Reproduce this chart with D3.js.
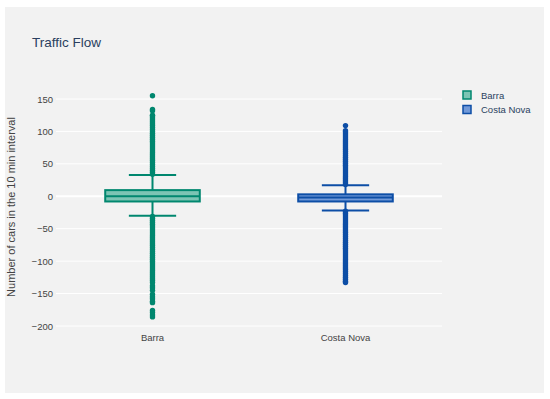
<!DOCTYPE html>
<html lang="en">

<head>
    <meta charset="UTF-8">
    <script src="https://d3js.org/d3.v7.min.js"></script>
    <title>Traffic Flow</title>
    <style>
        body { margin: 0; background: #fff; }
        text { font-family: "Liberation Sans", Arial, sans-serif; }
    </style>
</head>

<body>
    <div id="my_chart"></div>
    <script>
        // categories and box statistics
        var categories = ["Barra", "Costa Nova"];
        var colors = ["#00876f", "#0d4ea6"];
        var fills = ["#7cc4b4", "#7199d8"];
        var q1 = [-8, -8];
        var median = [0, -2];
        var q3 = [9.5, 3];
        var lowerFence = [-30, -22];
        var upperFence = [33, 17];
        var yTicks = [-200, -150, -100, -50, 0, 50, 100, 150];

        // outlier points, one list per category
        var barraOutliers = [
            34, 37, 40, 43, 46, 49, 52, 55, 58, 61, 64, 67, 70, 73, 76, 79, 82, 85, 88, 91,
            94, 97, 100, 103, 106, 109, 112, 115, 118, 121, 124, 125, 132, 134, 155,
            -31, -34, -37, -40, -43, -46, -49, -52, -55, -58, -61, -64, -67, -70, -73, -76,
            -79, -82, -85, -88, -91, -94, -97, -100, -103, -106, -109, -112, -115, -118,
            -121, -124, -127, -130, -133, -138, -141, -145, -151, -155, -158, -162,
            -164, -176, -179, -183, -186
        ];
        var costaOutliers = [
            18, 21, 24, 27, 30, 33, 36, 39, 42, 45, 48, 51, 54, 57, 60, 63, 66, 69, 72, 75,
            78, 81, 84, 87, 90, 93, 96, 99, 101, 109,
            -23, -26, -29, -32, -35, -38, -41, -44, -47, -50, -53, -56, -59, -62, -65, -68,
            -71, -74, -77, -80, -83, -86, -89, -92, -95, -98, -101, -104, -107, -110,
            -113, -116, -119, -122, -125, -128, -131, -133
        ];
        var outliers = [barraOutliers, costaOutliers];

        var W = 550, H = 399;
        var svg = d3.select("#my_chart")
            .append("svg")
            .attr("width", W)
            .attr("height", H);

        // gray panel
        svg.append("rect")
            .attr("x", 5).attr("y", 7)
            .attr("width", 539).attr("height", 386)
            .attr("fill", "#f2f2f2");

        var x = d3.scaleBand()
            .domain(categories)
            .range([56, 442]);
        var y = d3.scaleLinear()
            .domain([-200, 150])
            .range([326, 99]);

        // gridlines
        svg.append("g")
            .selectAll("line")
            .data(yTicks)
            .enter()
            .append("line")
            .attr("x1", 56).attr("x2", 442)
            .attr("y1", function (d) { return y(d); })
            .attr("y2", function (d) { return y(d); })
            .attr("stroke", "#fff")
            .attr("stroke-width", function (d) { return d === 0 ? 2 : 1; });

        // Y axis
        var yAxis = svg.append("g")
            .attr("transform", "translate(56,0)")
            .call(d3.axisLeft(y).tickValues(yTicks).tickSize(0).tickPadding(3)
                .tickFormat(function (d) { return d < 0 ? "\u2212" + Math.abs(d) : d; }));
        yAxis.select(".domain").remove();
        yAxis.selectAll("text")
            .attr("font-size", 9.5)
            .attr("fill", "#444")
            .attr("font-family", "Liberation Sans, Arial, sans-serif");

        // X axis
        var xAxis = svg.append("g")
            .attr("transform", "translate(0,331)")
            .call(d3.axisBottom(x).tickSize(0).tickPadding(3));
        xAxis.select(".domain").remove();
        xAxis.selectAll("text")
            .attr("font-size", 9.5)
            .attr("fill", "#444")
            .attr("font-family", "Liberation Sans, Arial, sans-serif");

        // boxes
        var boxW = x.bandwidth() * 0.49;
        categories.forEach(function (c, i) {
            var cx = x(c) + x.bandwidth() / 2;
            var g = svg.append("g");

            // whiskers
            g.append("line")
                .attr("x1", cx).attr("x2", cx)
                .attr("y1", y(upperFence[i])).attr("y2", y(lowerFence[i]))
                .attr("stroke", colors[i]).attr("stroke-width", 2);
            [upperFence[i], lowerFence[i]].forEach(function (v) {
                g.append("line")
                    .attr("x1", cx - boxW / 4).attr("x2", cx + boxW / 4)
                    .attr("y1", y(v)).attr("y2", y(v))
                    .attr("stroke", colors[i]).attr("stroke-width", 2);
            });

            // box
            g.append("rect")
                .attr("x", cx - boxW / 2)
                .attr("y", y(q3[i]))
                .attr("width", boxW)
                .attr("height", y(q1[i]) - y(q3[i]))
                .attr("fill", fills[i])
                .attr("stroke", colors[i])
                .attr("stroke-width", 2);
            g.append("line")
                .attr("x1", cx - boxW / 2).attr("x2", cx + boxW / 2)
                .attr("y1", y(median[i])).attr("y2", y(median[i]))
                .attr("stroke", colors[i]).attr("stroke-width", 2);

            // outliers
            g.selectAll("circle")
                .data(outliers[i])
                .enter()
                .append("circle")
                .attr("cx", cx)
                .attr("cy", function (d) { return y(d); })
                .attr("r", 2.7)
                .attr("fill", colors[i]);
        });

        // title
        svg.append("text")
            .attr("x", 32).attr("y", 47)
            .attr("font-size", 13.5)
            .attr("fill", "#2a3f5f")
            .text("Traffic Flow");

        // y axis title
        svg.append("text")
            .attr("transform", "translate(15,207) rotate(-90)")
            .attr("text-anchor", "middle")
            .attr("font-size", 11)
            .attr("fill", "#444")
            .text("Number of cars in the 10 min interval");

        // legend
        var legend = svg.append("g").attr("transform", "translate(463,91)");
        categories.forEach(function (c, i) {
            legend.append("rect")
                .attr("x", 0).attr("y", i * 14.5)
                .attr("width", 8).attr("height", 8)
                .attr("fill", fills[i])
                .attr("stroke", colors[i])
                .attr("stroke-width", 1.5);
            legend.append("text")
                .attr("x", 18).attr("y", i * 14.5 + 7.5)
                .attr("font-size", 9.5)
                .attr("fill", "#2a3f5f")
                .text(c);
        });
    </script>
</body>

</html>
